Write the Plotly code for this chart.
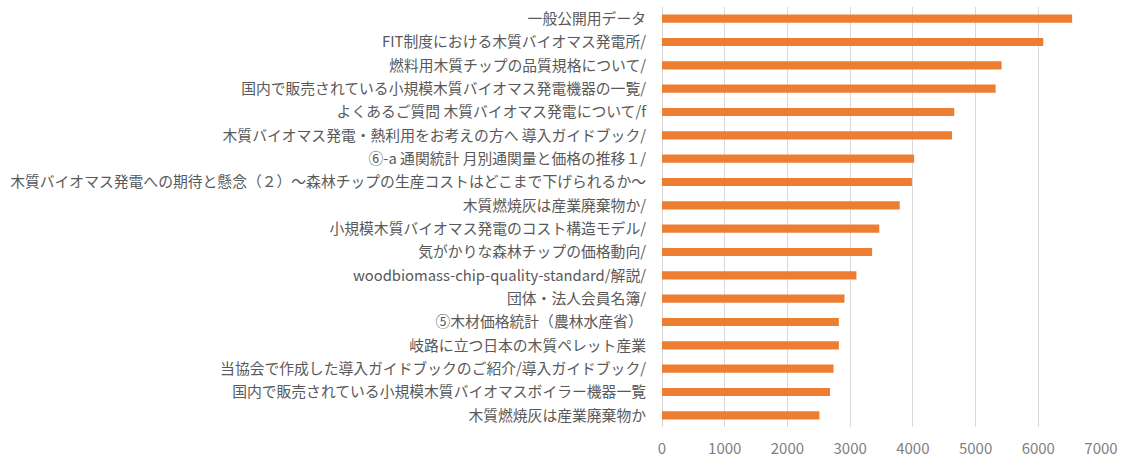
import plotly.graph_objects as go

# Page titles, top to bottom, with their view counts
pages = [
    "一般公開用データ",
    "FIT制度における木質バイオマス発電所/",
    "燃料用木質チップの品質規格について/",
    "国内で販売されている小規模木質バイオマス発電機器の一覧/",
    "よくあるご質問 木質バイオマス発電について/f",
    "木質バイオマス発電・熱利用をお考えの方へ 導入ガイドブック/",
    "⑥-a 通関統計 月別通関量と価格の推移１/",
    "木質バイオマス発電への期待と懸念（２）～森林チップの生産コストはどこまで下げられるか～",
    "木質燃焼灰は産業廃棄物か/",
    "小規模木質バイオマス発電のコスト構造モデル/",
    "気がかりな森林チップの価格動向/",
    "woodbiomass-chip-quality-standard/解説/",
    "団体・法人会員名簿/",
    "⑤木材価格統計（農林水産省） ",
    "岐路に立つ日本の木質ペレット産業",
    "当協会で作成した導入ガイドブックのご紹介/導入ガイドブック/",
    "国内で販売されている小規模木質バイオマスボイラー機器一覧",
    "木質燃焼灰は産業廃棄物か",
]
views = [6540, 6080, 5415, 5320, 4660, 4625, 4020, 3985, 3790,
         3465, 3350, 3100, 2910, 2820, 2820, 2735, 2680, 2510]

x_ticks = [0, 1000, 2000, 3000, 4000, 5000, 6000, 7000]

font_family = "Noto Sans CJK JP, Noto Sans, sans-serif"

fig = go.Figure(
    go.Bar(
        x=views,
        y=pages,
        orientation="h",
        marker=dict(color="#ED7D31", line=dict(width=0)),
    )
)

fig.update_layout(
    width=1123,
    height=458,
    margin=dict(l=662, r=22, t=7, b=31),
    paper_bgcolor="white",
    plot_bgcolor="white",
    bargap=0.65,
    showlegend=False,
    font=dict(family=font_family, size=14.8, color="#595959"),
)

fig.update_xaxes(
    range=[0, 7000],
    tickvals=x_ticks,
    ticktext=[str(v) for v in x_ticks],
    showgrid=True,
    gridcolor="#D9D9D9",
    gridwidth=1,
    zeroline=True,
    zerolinecolor="#D9D9D9",
    zerolinewidth=1,
    showline=False,
    automargin=False,
    ticklabelstandoff=11,
    tickfont=dict(family=font_family, size=15, color="#7F7F7F"),
)

fig.update_yaxes(
    autorange="reversed",
    showgrid=False,
    showline=False,
    ticks="",
    automargin=False,
    ticklabelstandoff=15,
    tickfont=dict(family=font_family, size=14.8, color="#595959"),
)

fig.write_html("out.html")
